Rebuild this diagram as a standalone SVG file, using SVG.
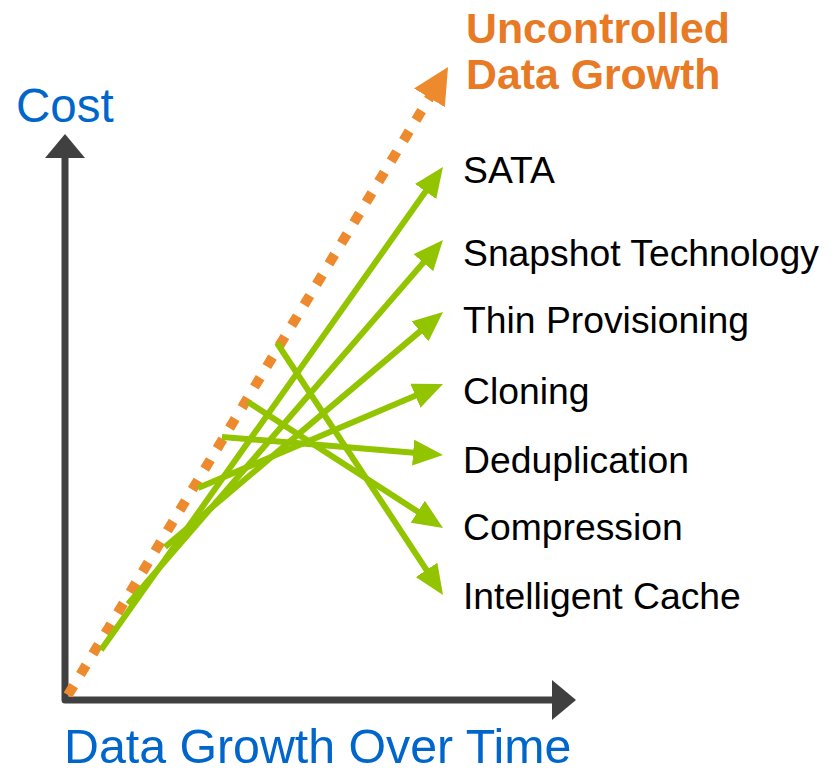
<svg xmlns="http://www.w3.org/2000/svg" width="834" height="770" viewBox="0 0 834 770">
  <style>
    .axis { fill: none; stroke: #404040; stroke-width: 7; stroke-linejoin: round; }
    .trend { fill: none; stroke: #92C400; stroke-width: 6; marker-end: url(#greenHead); }
    .growth { fill: none; stroke: #EE8A2E; stroke-width: 10; stroke-dasharray: 11 13; marker-end: url(#orangeHead); }
    .label { font-family: "Liberation Sans", Arial, sans-serif; font-size: 37.3px; fill: #000000; }
    .axisTitle { font-family: "Liberation Sans", Arial, sans-serif; fill: #0066CC; }
    .title { font-family: "Liberation Sans", Arial, sans-serif; font-size: 42.8px; font-weight: bold; fill: #E87A25; }
  </style>
  <defs>
    <marker id="greenHead" markerUnits="userSpaceOnUse" markerWidth="30" markerHeight="26" viewBox="0 0 30 26" refX="10" refY="13" orient="auto">
      <path d="M0,0 L30,13 L0,26 z" fill="#92C400"/>
    </marker>
    <marker id="orangeHead" markerUnits="userSpaceOnUse" markerWidth="36" markerHeight="36" viewBox="0 0 36 36" refX="6" refY="18" orient="auto">
      <path d="M0,0 L36,18 L0,36 z" fill="#EE8A2E"/>
    </marker>
    <marker id="axisHead" markerUnits="userSpaceOnUse" markerWidth="24" markerHeight="40" viewBox="0 0 24 40" refX="0" refY="20" orient="auto">
      <path d="M0,0 L24,20 L0,40 z" fill="#404040"/>
    </marker>
  </defs>

  <!-- axes -->
  <g id="axes">
    <path class="axis" d="M65,159 L65,700 L551,700"/>
    <path d="M65,159 L65,158" stroke="#404040" stroke-width="7" marker-end="url(#axisHead)"/>
    <path d="M551,700 L552,700" stroke="#404040" stroke-width="7" marker-end="url(#axisHead)"/>
    <text id="yTitle" class="axisTitle" x="16" y="122" font-size="47.5">Cost</text>
    <text id="xTitle" class="axisTitle" x="64" y="763" font-size="48.3">Data Growth Over Time</text>
  </g>

  <!-- connectors -->
  <g id="connectors">
    <path id="growthLine" class="growth" d="M68,695 L432.5,92.7"/>
    <path id="toSata" class="trend" d="M101,650 L431.4,183.3"/>
    <path id="toSnapshot" class="trend" d="M128,604 L429.9,255.1"/>
    <path id="toThin" class="trend" d="M165,547 L427.7,324.9"/>
    <path id="toCloning" class="trend" d="M198,488 L424.6,391.8"/>
    <path id="toDedup" class="trend" d="M222,437 L423.1,453.4"/>
    <path id="toCompression" class="trend" d="M248,402 L426.2,517.1"/>
    <path id="toCache" class="trend" d="M277,343 L432,578.3"/>
  </g>

  <!-- labels -->
  <g id="uncontrolled">
    <text class="title" x="466" y="43">Uncontrolled</text>
    <text class="title" x="466" y="89">Data Growth</text>
  </g>
  <g id="sata"><text class="label" x="463" y="183">SATA</text></g>
  <g id="snapshot"><text class="label" x="463" y="266">Snapshot Technology</text></g>
  <g id="thin"><text class="label" x="463" y="333">Thin Provisioning</text></g>
  <g id="cloning"><text class="label" x="463" y="404">Cloning</text></g>
  <g id="dedup"><text class="label" x="463" y="473">Deduplication</text></g>
  <g id="compression"><text class="label" x="463" y="540">Compression</text></g>
  <g id="cache"><text class="label" x="463" y="609">Intelligent Cache</text></g>
</svg>
